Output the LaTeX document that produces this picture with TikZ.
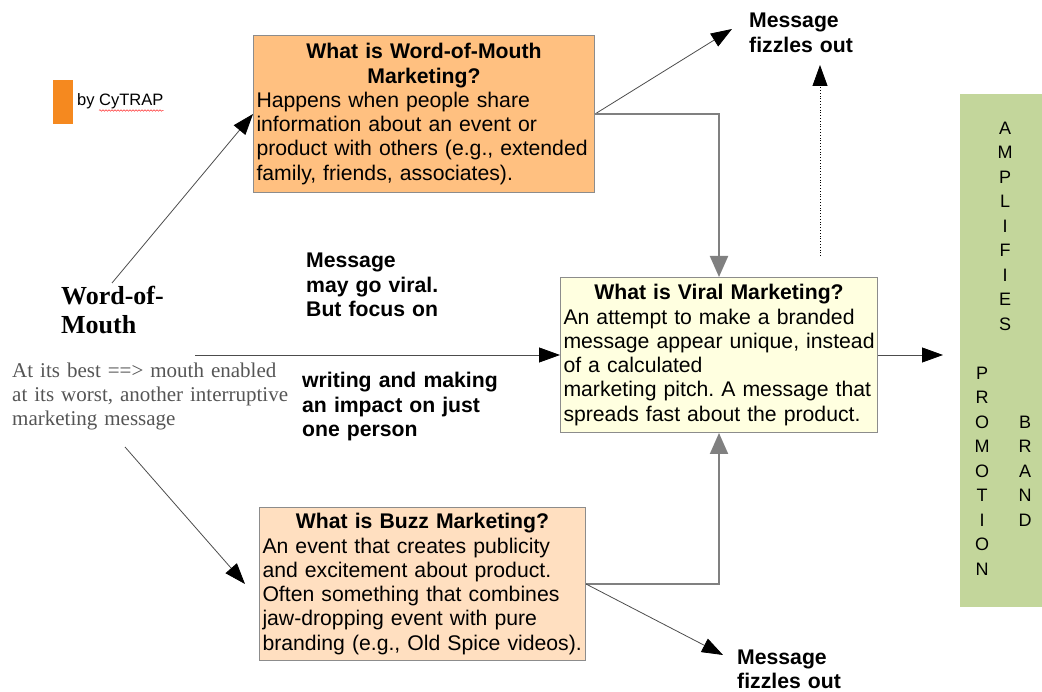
\documentclass[tikz,border=0pt]{standalone}
\usepackage{fontspec}
\setmainfont{Liberation Sans}
\newfontfamily\seriffont{Liberation Serif}
\usetikzlibrary{arrows.meta,decorations.pathmorphing}
\definecolor{womfill}{HTML}{FFC080}
\definecolor{buzzfill}{HTML}{FFDFC0}
\definecolor{viralfill}{HTML}{FFFFE0}
\definecolor{greenfill}{HTML}{C3D69B}
\definecolor{tagorange}{HTML}{F5891F}
\definecolor{boxborder}{HTML}{8C8C8C}
\definecolor{linkgray}{HTML}{808080}
\definecolor{serifgray}{HTML}{555555}
\newcommand{\oneline}[1]{\mbox{#1}}
\frenchspacing
\begin{document}
\begin{tikzpicture}[x=1pt,y=-1pt,
  infobox/.style={draw=boxborder, line width=1pt, rectangle, inner sep=0pt, inner xsep=3pt,
    anchor=north west, font=\fontsize{21.2}{24.3}\selectfont},
  plaintext/.style={inner sep=0pt, anchor=base west, align=left},
  sanstext/.style={plaintext, font=\fontsize{21.2}{24.4}\selectfont\bfseries},
  lettercol/.style={inner sep=0pt, anchor=base, text width=22pt, align=center,
    font=\fontsize{18}{24.5}\selectfont},
  blackarrow/.style={line width=0.8pt, draw=black!70, -{Triangle[length=21pt,width=15pt,color=black]}},
  grayarrow/.style={line width=2pt, draw=linkgray, -{Triangle[length=21pt,width=18pt,color=linkgray]}},
  dotarrow/.style={line width=0.8pt, draw=black, dotted, -{Triangle[length=21pt,width=15pt,color=black,line cap=butt]}}
]
\useasboundingbox (0,0) rectangle (1042,692);

% tag
\node[fill=tagorange, minimum width=20pt, minimum height=44pt, anchor=north west, inner sep=0pt] (tag) at (53,80) {};
\node[plaintext, font=\fontsize{16.5}{19}\selectfont] (cytrap) at (77,106) {by CyTRAP};
\draw[red!80, line width=0.5pt, decorate, decoration={snake, amplitude=0.8pt, segment length=3pt}]
  ([xshift=22pt,yshift=-4.5pt]cytrap.base west) -- ([yshift=-4.5pt]cytrap.base east);

% boxes
\node[infobox, fill=womfill, minimum width=341pt, minimum height=157pt, text width=335pt] (wom) at (253,35)
  {\centering\textbf{What is Word-of-Mouth}\\\textbf{Marketing?}\par
   \raggedright \oneline{Happens when people share}\\\oneline{information about an event or}\\\oneline{product with others (e.g., extended}\\\oneline{family, friends, associates).}};

\node[infobox, fill=viralfill, minimum width=317pt, minimum height=155pt, text width=311pt] (viral) at (560,277)
  {\centering\textbf{What is Viral Marketing?}\par
   \raggedright \oneline{An attempt to make a branded}\\\oneline{message appear unique, instead}\\\oneline{of a calculated}\\\oneline{marketing pitch. A message that}\\\oneline{spreads fast about the product.}};

\node[infobox, fill=buzzfill, minimum width=326pt, minimum height=153pt, text width=320pt] (buzz) at (259,507)
  {\centering\textbf{What is Buzz Marketing?}\par
   \raggedright \oneline{An event that creates publicity}\\\oneline{and excitement about product.}\\\oneline{Often something that combines}\\\oneline{jaw-dropping event with pure}\\\oneline{branding (e.g., Old Spice videos).}};

\node[fill=greenfill, minimum width=82pt, minimum height=513pt, anchor=north west, inner sep=0pt] (green) at (960,94) {};
\node[lettercol] (amp) at (1005,134.5) {A\\M\\P\\L\\I\\F\\I\\E\\S};
\node[lettercol] (promo) at (982,379.5) {P\\R\\O\\M\\O\\T\\I\\O\\N};
\node[lettercol] (brand) at (1025,428.5) {B\\R\\A\\N\\D};

% left texts
\node[plaintext, text width=140pt, font=\fontsize{26}{28.5}\selectfont\seriffont\bfseries] (wordmouth) at (61,305) {Word-of-\\Mouth};
\node[plaintext, text width=280pt, text=serifgray, font=\fontsize{21}{24}\selectfont\seriffont] (best) at (12,378)
  {At its best ==> mouth enabled\\at its worst, another interruptive\\marketing message};

% middle texts
\node[sanstext, text width=200pt] (viralnote) at (306,268) {Message\\may go viral.\\But focus on};
\node[sanstext, text width=220pt] (focusnote) at (302,388) {writing and making\\an impact on just\\one person};

% fizzle texts
\node[sanstext, text width=130pt] (msgtop) at (749,28) {Message\\fizzles out};
\node[sanstext, text width=130pt] (msgbot) at (737,664) {Message\\fizzles out};

% connector end points
\coordinate (s1) at (112,283);
\coordinate (s2) at (125,447);
\coordinate (s3) at (195,355);
\coordinate (t1) at (732,29);
\coordinate (t2) at (723,655);
\coordinate (d0) at (820,256);
\coordinate (d1) at (820,65);
\coordinate (t3) at (245,584);

% connectors
\draw[blackarrow] (s1) -- (wom.west);
\draw[blackarrow] (s2) -- (t3);
\draw[blackarrow] (s3) -- (s3 -| viral.west);
\draw[blackarrow] (wom.east) -- (t1);
\draw[grayarrow] (wom.east) -- (wom.east -| viral.north) -- (viral.north);
\draw[dotarrow] (d0) -- (d1);
\draw[blackarrow, shorten >=17pt] (viral.east) -- (viral.east -| green.west);
\draw[grayarrow] (buzz.east) -- (buzz.east -| viral.south) -- (viral.south);
\draw[blackarrow] (buzz.east) -- (t2);
\end{tikzpicture}
\end{document}
